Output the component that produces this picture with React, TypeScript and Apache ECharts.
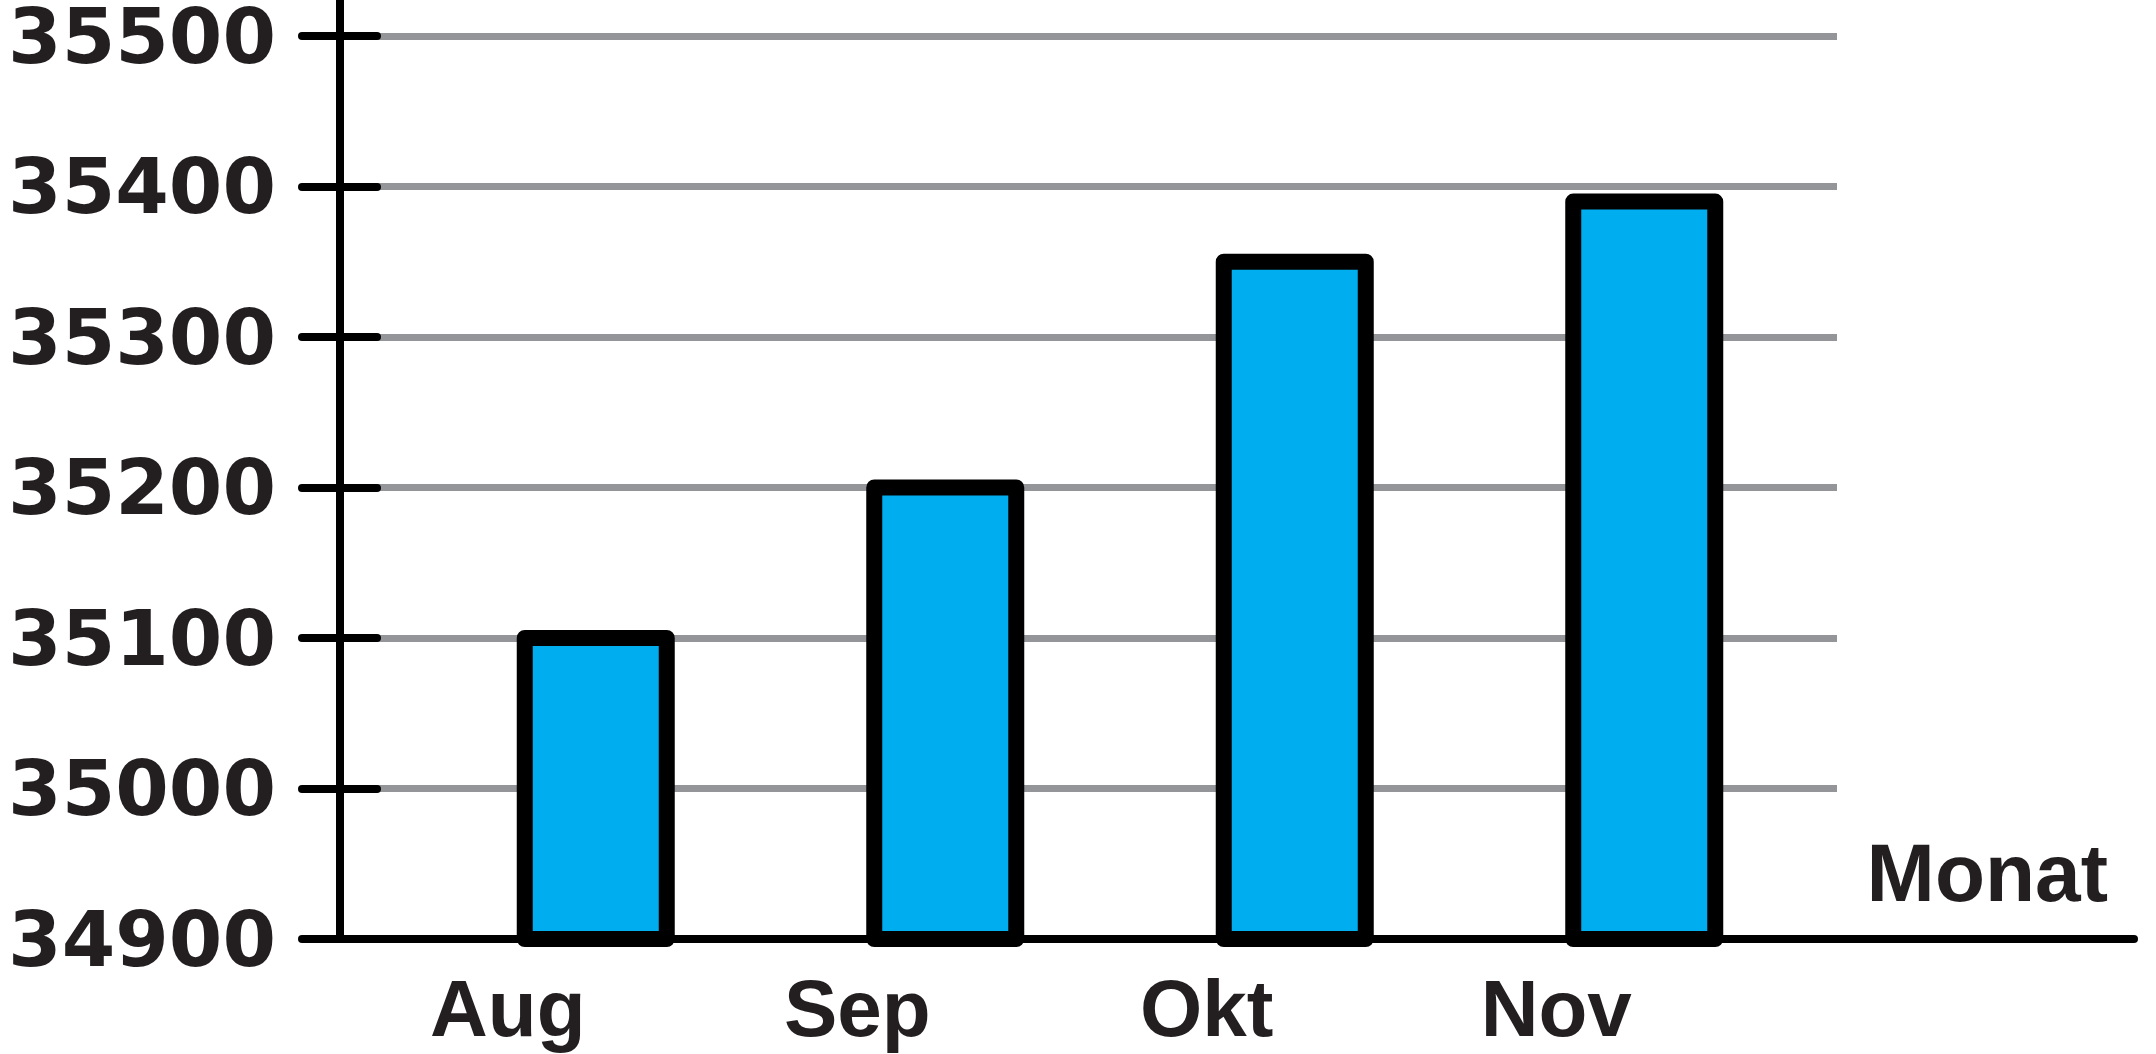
import React, { useEffect, useRef } from "react";
import * as echarts from "echarts";

const months: string[] = ["Aug", "Sep", "Okt", "Nov"];
const values: number[] = [35100, 35200, 35350, 35390];
const yMin = 34900;
const yMax = 35500;
const yStep = 100;
const xAxisName = "Monat";

const TEXT = "#231f20";
const GRID = "#939598";
const BAR = "#00aeef";

export default function App() {
  const ref = useRef<HTMLDivElement>(null);
  useEffect(() => {
    if (!ref.current) return;
    const chart = echarts.init(ref.current, undefined, { renderer: "svg" });
    const barData = values.map((v, i) => [i, v]);
    chart.setOption({
      animation: false,
      backgroundColor: "#ffffff",
      grid: [
        { left: 340, top: 36, width: 1497, height: 903, outerBoundsMode: "none", containLabel: false },
        { left: 421, top: 36, width: 1398, height: 903, outerBoundsMode: "none", containLabel: false },
        { left: 340, top: 0, width: 1794, height: 939, outerBoundsMode: "none", containLabel: false },
      ],
      xAxis: [
        { type: "value", gridIndex: 0, show: false, min: 0, max: 1 },
        {
          type: "category",
          gridIndex: 1,
          data: months,
          axisLine: { show: false },
          axisTick: { show: false },
          splitLine: { show: false },
          axisLabel: {
            margin: 29,
            color: TEXT,
            fontFamily: "Liberation Sans",
            fontWeight: "bold",
            fontSize: 80,
            padding: [0, 176, 0, 0],
          },
        },
        {
          type: "value",
          gridIndex: 2,
          min: 0,
          max: 1,
          axisLine: {
            show: true,
            onZero: false,
            lineStyle: { color: "#000", width: 8, cap: "round" },
          },
          axisTick: { show: false },
          axisLabel: { show: false },
          splitLine: { show: false },
          name: xAxisName,
          nameLocation: "end",
          nameGap: -26,
          nameTextStyle: {
            color: TEXT,
            fontFamily: "Liberation Sans",
            fontWeight: "bold",
            fontSize: 82,
            align: "right",
            verticalAlign: "bottom",
            padding: [0, 0, 26, 0],
          },
        },
      ],
      yAxis: [
        {
          type: "value",
          gridIndex: 0,
          min: yMin,
          max: yMax,
          interval: yStep,
          z: 0,
          axisLine: { show: false },
          axisTick: {
            show: true,
            length: 38,
            lineStyle: { color: "#000", width: 8, cap: "round" },
          },
          axisLabel: {
            margin: 64,
            color: TEXT,
            fontFamily: "DejaVu Sans",
            fontWeight: "bold",
            fontSize: 77,
            lineHeight: 62,
            formatter: (v: number) => String(v),
          },
          splitLine: { show: true, lineStyle: { color: GRID, width: 7 } },
        },
        {
          type: "value",
          gridIndex: 0,
          min: yMin,
          max: yMax,
          interval: yStep,
          position: "left",
          z: 1,
          axisLine: { show: false },
          axisTick: {
            show: true,
            inside: true,
            length: 37,
            lineStyle: { color: "#000", width: 8, cap: "round" },
          },
          axisLabel: { show: false },
          splitLine: { show: false },
        },
        {
          type: "value",
          gridIndex: 1,
          min: yMin,
          max: yMax,
          interval: yStep,
          show: false,
        },
        {
          type: "value",
          gridIndex: 2,
          min: 0,
          max: 1,
          axisLine: {
            show: true,
            onZero: false,
            lineStyle: { color: "#000", width: 8, cap: "round" },
          },
          axisTick: { show: false },
          axisLabel: { show: false },
          splitLine: { show: false },
        },
      ],
      series: [
        {
          type: "custom",
          xAxisIndex: 1,
          yAxisIndex: 2,
          data: barData,
          encode: { x: 0, y: 1 },
          z: 3,
          clip: false,
          renderItem: (params: any, api: any) => {
            const idx = api.value(0);
            const top = api.coord([idx, api.value(1)]);
            const base = api.coord([idx, yMin]);
            const w = 142;
            return {
              type: "rect",
              shape: { x: top[0] - w / 2, y: top[1], width: w, height: base[1] - top[1] },
              style: { fill: BAR, stroke: "#000", lineWidth: 16, lineJoin: "round" },
            };
          },
        },
      ],
    });
    return () => chart.dispose();
  }, []);
  return (
    <div
      ref={ref}
      style={{ position: "absolute", left: 0, top: 0, width: 2156, height: 1054 }}
    />
  );
}
